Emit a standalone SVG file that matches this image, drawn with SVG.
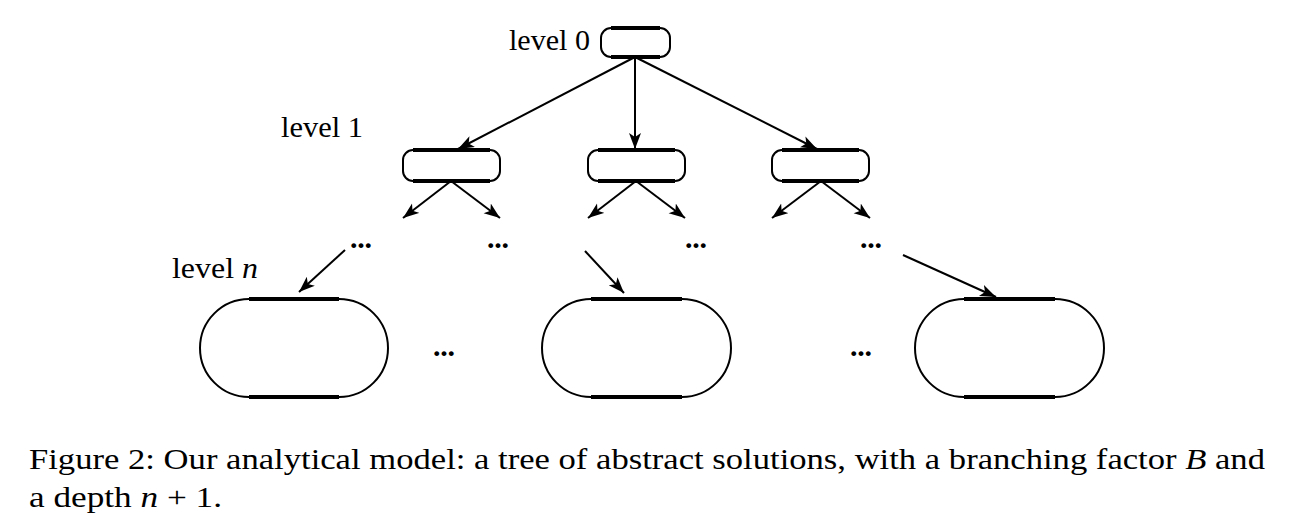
<svg xmlns="http://www.w3.org/2000/svg" width="1297" height="528" viewBox="0 0 1297 528">
<style>
.t{font-family:"Liberation Serif","DejaVu Serif",serif;font-size:29px;fill:#000}
.c{font-family:"Liberation Serif","DejaVu Serif",serif;font-size:29px;fill:#000}
.d{font-family:"Liberation Serif","DejaVu Serif",serif;font-size:30px;font-weight:bold;fill:#000}
.i{font-style:italic}
.box{fill:#fff;stroke:#000;stroke-width:2}
.flat{stroke:#000;stroke-width:4;fill:none}
.edge{stroke:#000;stroke-width:2;fill:none;marker-end:url(#ah)}
</style>
<defs>
<marker id="ah" markerUnits="userSpaceOnUse" markerWidth="18" markerHeight="14" refX="16" refY="6" orient="auto">
<path d="M0,0 L16,6 L0,12 L4,6 Z" fill="#000"/>
</marker>
</defs>
<rect width="1297" height="528" fill="#fff"/>
<g id="labels">
<text class="t" x="509" y="50" textLength="81" lengthAdjust="spacingAndGlyphs">level 0</text>
<text class="t" x="281" y="137" textLength="82" lengthAdjust="spacingAndGlyphs">level 1</text>
<text class="t" x="172" y="278" textLength="86" lengthAdjust="spacingAndGlyphs">level <tspan class="i">n</tspan></text>
</g>
<g id="n0">
<rect class="box" x="601" y="28" width="69" height="29" rx="10"/>
<path class="flat" d="M611,28H660M611,57H660"/>
</g>
<g id="n1a">
<rect class="box" x="403" y="150" width="97" height="31" rx="10"/>
<path class="flat" d="M413,150H490M413,181H490"/>
</g>
<g id="n1b">
<rect class="box" x="588" y="150" width="97" height="31" rx="10"/>
<path class="flat" d="M598,150H675M598,181H675"/>
</g>
<g id="n1c">
<rect class="box" x="772" y="150" width="97" height="31" rx="10"/>
<path class="flat" d="M782,150H859M782,181H859"/>
</g>
<g id="nna">
<rect class="box" x="200" y="299" width="188" height="98" rx="49"/>
<path class="flat" d="M249,299H339M249,397H339"/>
</g>
<g id="nnb">
<rect class="box" x="542" y="299" width="189" height="98" rx="49"/>
<path class="flat" d="M591,299H682M591,397H682"/>
</g>
<g id="nnc">
<rect class="box" x="915" y="299" width="189" height="98" rx="49"/>
<path class="flat" d="M964,299H1055M964,397H1055"/>
</g>
<g id="dots">
<text class="d" x="350" y="248" textLength="22">...</text>
<text class="d" x="487" y="248" textLength="22">...</text>
<text class="d" x="685" y="248" textLength="22">...</text>
<text class="d" x="860" y="248" textLength="22">...</text>
<text class="d" x="433" y="356" textLength="22">...</text>
<text class="d" x="850" y="356" textLength="22">...</text>
</g>
<g id="connectors">
<line class="edge" x1="635" y1="57" x2="458" y2="149"/>
<line class="edge" x1="635" y1="57" x2="635" y2="149"/>
<line class="edge" x1="635" y1="57" x2="817" y2="149"/>
<line class="edge" x1="451" y1="181" x2="403" y2="218"/>
<line class="edge" x1="451" y1="181" x2="500" y2="218"/>
<line class="edge" x1="636" y1="181" x2="588" y2="218"/>
<line class="edge" x1="636" y1="181" x2="685" y2="218"/>
<line class="edge" x1="821" y1="181" x2="772" y2="218"/>
<line class="edge" x1="821" y1="181" x2="870" y2="218"/>
<line class="edge" x1="345" y1="250" x2="299" y2="292"/>
<line class="edge" x1="585" y1="251" x2="624" y2="293"/>
<line class="edge" x1="903" y1="255" x2="996" y2="297"/>
</g>
<g id="caption">
<text class="c" x="29" y="469" textLength="1236" lengthAdjust="spacingAndGlyphs">Figure 2: Our analytical model: a tree of abstract solutions, with a branching factor <tspan class="i">B</tspan> and</text>
<text class="c" x="29" y="507" textLength="193" lengthAdjust="spacingAndGlyphs">a depth <tspan class="i">n</tspan> + 1.</text>
</g>
</svg>
